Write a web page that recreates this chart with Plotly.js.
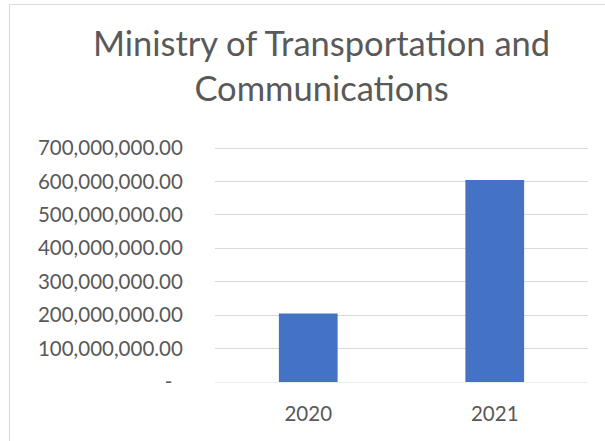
<!DOCTYPE html>
<html>
<head>
<meta charset="utf-8">
<script src="https://cdn.plot.ly/plotly-3.0.1.min.js"></script>
<style>
  html, body { margin: 0; padding: 0; background: #fff; }
  #wrap { position: relative; width: 605px; height: 441px; overflow: hidden; }
  #frame { position: absolute; left: 9px; top: 4px; width: 700px; height: 600px; border: 1px solid #d9d9d9; box-sizing: border-box; pointer-events: none; z-index: 2; }
  #chart { position: absolute; left: 0; top: 0; width: 605px; height: 441px; }
</style>
</head>
<body>
<div id="wrap">
  <div id="chart"></div>
  <div id="frame"></div>
</div>
<script>
const categories = ["2020", "2021"];
const values = [205000000, 604000000];
const tickValues = [0, 100000000, 200000000, 300000000, 400000000, 500000000, 600000000, 700000000];
const tickLabels = ["-\u00a0\u00a0", "100,000,000.00", "200,000,000.00", "300,000,000.00", "400,000,000.00", "500,000,000.00", "600,000,000.00", "700,000,000.00"];
const titleText = "Ministry of Transportation and<br>Communications";

const fontFam = "Lato, 'Noto Sans', sans-serif";

Plotly.newPlot("chart", [{
  type: "bar",
  x: categories,
  y: values,
  marker: { color: "#4472C4" },
  hoverinfo: "none"
}], {
  width: 605,
  height: 441,
  paper_bgcolor: "#ffffff",
  plot_bgcolor: "#ffffff",
  margin: { l: 215, r: 17, t: 145, b: 59, pad: 0 },
  bargap: 0.685,
  showlegend: false,
  title: {
    text: titleText,
    font: { family: fontFam, size: 34.5, color: "#595959" },
    x: 321.5 / 605,
    xref: "container",
    xanchor: "center",
    y: 1 - 56 / 441,
    yref: "container",
    yanchor: "top"
  },
  xaxis: {
    type: "category",
    showgrid: false,
    zeroline: false,
    showline: false,
    ticks: "outside",
    ticklen: 13,
    tickcolor: "rgba(0,0,0,0)",
    tickfont: { family: fontFam, size: 20.5, color: "#595959" }
  },
  yaxis: {
    range: [0, 709000000],
    tickvals: tickValues,
    ticktext: tickLabels,
    showgrid: true,
    gridcolor: "#d9d9d9",
    gridwidth: 1,
    zeroline: true,
    zerolinecolor: "#ececec",
    zerolinewidth: 1,
    ticks: "outside",
    ticklen: 27,
    tickcolor: "rgba(0,0,0,0)",
    tickfont: { family: fontFam, size: 20.5, color: "#595959" }
  }
}, { staticPlot: true });
</script>
</body>
</html>
